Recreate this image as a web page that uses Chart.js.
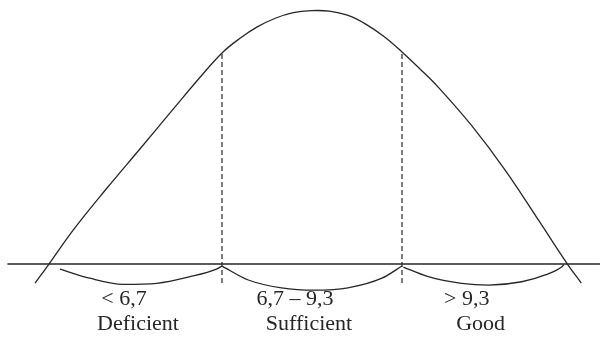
<!DOCTYPE html>
<html>
<head>
<meta charset="utf-8">
<script src="https://cdn.jsdelivr.net/npm/chart.js@4/dist/chart.umd.min.js"></script>
<style>
    body { margin: 0; background: #fff; }
    #wrap { width: 608px; height: 337px; position: relative; }
</style>
</head>
<body>
<div id="wrap"><canvas id="curveChart"></canvas></div>
<script>
// Bell curve (score on x, relative height on y, peak = 100)
var curveX = [4.0, 4.19, 4.55, 5.03, 5.52, 6.00, 6.38, 6.7, 6.96, 7.21, 7.47, 7.73, 7.99, 8.25, 8.51, 8.77, 9.04, 9.3, 9.56, 9.82, 10.31, 10.79, 11.27, 11.70, 11.89];
var curveY = [-7.5, -0.4, 13.4, 29.7, 45.6, 61.3, 73.6, 83.3, 89.1, 93.6, 97.0, 99.2, 100, 99.8, 98.2, 94.8, 89.8, 83.7, 77.0, 69.9, 54.5, 37.1, 17.4, -0.4, -7.5];

// Class limits
var thresholds = [6.7, 9.3];
var rangeLabels = ['< 6,7', '6,7 \u2013 9,3', '> 9,3'];
var classLabels = ['Deficient', 'Sufficient', 'Good'];

// Braces under the axis
var braceLeftX = [4.36, 4.79, 5.27, 5.76, 6.24, 6.62, 6.7];
var braceLeftY = [-2.0, -5.6, -8.0, -7.6, -5.0, -2.0, -0.8];
var braceMidX = [6.7, 7.08, 7.56, 8.04, 8.52, 9.01, 9.3];
var braceMidY = [-0.8, -6.3, -9.4, -10.3, -9.4, -5.6, -0.8];
var braceRightX = [9.32, 9.68, 10.16, 10.55, 11.03, 11.37, 11.61, 11.64];
var braceRightY = [-1.2, -5.0, -7.6, -8.3, -7.0, -4.3, -1.1, -0.2];

// Horizontal axis line
var axisX = [3.6, 12.16];

function toPoints(xs, ys) {
    return xs.map(function(x, i) { return { x: x, y: ys[i] }; });
}

var ink = '#262626';

var braces = [
    toPoints(braceLeftX, braceLeftY),
    toPoints(braceMidX, braceMidY),
    toPoints(braceRightX, braceRightY)
];

var datasets = [];

// main curve
datasets.push({
    data: toPoints(curveX, curveY),
    borderColor: ink, borderWidth: 1.3,
    pointRadius: 0, tension: 0.4, fill: false
});

// axis line
datasets.push({
    data: [{ x: axisX[0], y: 0 }, { x: axisX[1], y: 0 }],
    borderColor: ink, borderWidth: 1.5, pointRadius: 0
});

// dashed class limits, up to the curve
thresholds.forEach(function(t) {
    var top = curveY[curveX.indexOf(t)];
    datasets.push({
        data: [{ x: t, y: -7.5 }, { x: t, y: top }],
        borderColor: ink, borderWidth: 1.2, borderDash: [5, 3], pointRadius: 0
    });
});

// braces
braces.forEach(function(b) {
    datasets.push({
        data: b,
        borderColor: ink, borderWidth: 1.3,
        pointRadius: 0, cubicInterpolationMode: 'monotone'
    });
});

// labels under each brace
var labelPlugin = {
    id: 'braceLabels',
    afterDatasetsDraw: function(chart) {
        var ctx = chart.ctx;
        var xs = chart.scales.x, ys = chart.scales.y;
        var base = ys.getPixelForValue(0);
        ctx.save();
        ctx.fillStyle = ink;
        ctx.font = '22px "Liberation Serif", "Times New Roman", serif';
        ctx.textAlign = 'center';
        ctx.textBaseline = 'alphabetic';
        braces.forEach(function(b, i) {
            var mid = (xs.getPixelForValue(b[0].x) + xs.getPixelForValue(b[b.length - 1].x)) / 2;
            ctx.fillText(rangeLabels[i], mid - 17, base + 41);
            ctx.fillText(classLabels[i], mid - 3, base + 66);
        });
        ctx.restore();
    }
};

new Chart(document.getElementById('curveChart'), {
    type: 'line',
    data: { datasets: datasets },
    options: {
        responsive: true,
        maintainAspectRatio: false,
        animation: false,
        layout: { padding: 0 },
        scales: {
            x: { type: 'linear', min: 3.493, max: 12.276, display: false },
            y: { type: 'linear', min: -28.8, max: 104.2, display: false }
        },
        plugins: {
            legend: { display: false },
            tooltip: { enabled: false }
        }
    },
    plugins: [labelPlugin]
});
</script>
</body>
</html>
